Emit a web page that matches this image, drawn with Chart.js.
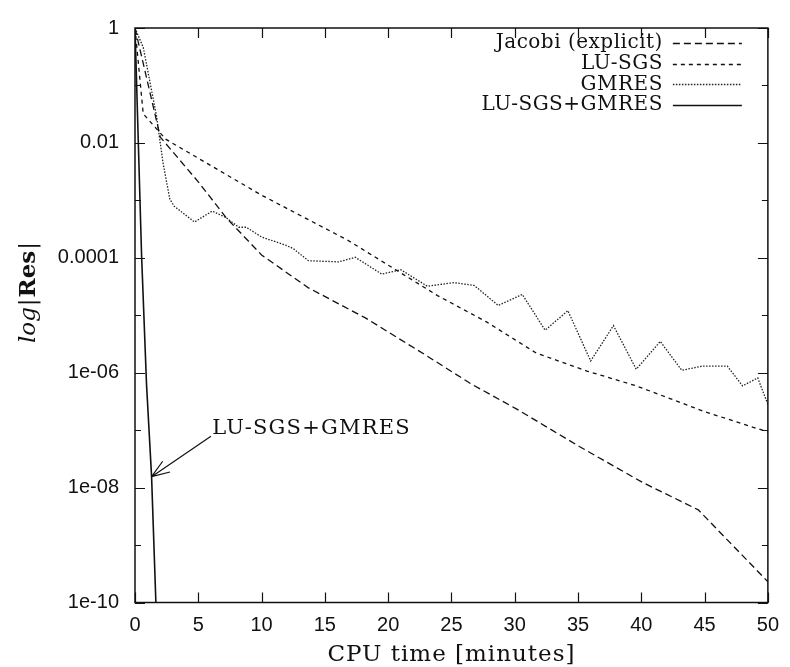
<!DOCTYPE html>
<html>
<head>
<meta charset="utf-8">
<script src="https://cdn.jsdelivr.net/npm/chart.js@4"></script>
<style>
  html, body { margin: 0; padding: 0; background: #fff; }
  canvas { display: block; }
</style>
</head>
<body>
<canvas id="resChart" width="790" height="667"></canvas>
<script>
// tick values and labels
const xTicks = [0, 5, 10, 15, 20, 25, 30, 35, 40, 45, 50];
const yTicks = [1e-10, 1e-9, 1e-8, 1e-7, 1e-6, 1e-5, 1e-4, 1e-3, 1e-2, 1e-1, 1];
const yTickLabels = ['1e-10', '', '1e-08', '', '1e-06', '', '0.0001', '', '0.01', '', '1'];

// series (CPU time in minutes, residual)
const jacobiX = [0, 2, 5, 7.2, 10, 13.7, 18.2, 23, 26.6, 30.2, 35.1, 40.1, 44.5, 50];
const jacobiY = [1, 1.26e-2, 2.1e-3, 5.0e-4, 1.12e-4, 3.0e-5, 9.0e-6, 2.0e-6, 6.3e-7, 2.3e-7, 5.2e-8, 1.23e-8, 4.1e-9, 2.3e-10];

const lusgsX = [0, 0.65, 2.45, 10, 16.85, 23.9, 27.8, 31.7, 35.7, 39.6, 45, 50];
const lusgsY = [1, 3.2e-2, 1.15e-2, 1.23e-3, 2.0e-4, 2.2e-5, 7.6e-6, 2.2e-6, 1.07e-6, 5.9e-7, 2.1e-7, 9.3e-8];

const gmresX = [0, 0.65, 1.7, 2.2, 2.75, 3.1, 4.7, 6.1, 7.2, 8.2, 8.8, 10, 11.9, 12.5, 13.7, 16.1, 17.4, 19.5, 21,
  23.1, 25.2, 26.8, 28.7, 30.6, 32.4, 34.2, 36, 37.8, 39.6, 41.5, 43.2, 44.8, 46.8, 48, 49.2, 50];
const gmresY = [1, 0.46, 2.95e-2, 4.7e-3, 1.05e-3, 7.9e-4, 4.2e-4, 6.5e-4, 5.0e-4, 3.4e-4, 3.4e-4, 2.3e-4, 1.66e-4, 1.45e-4, 8.9e-5, 8.5e-5, 1.02e-4, 5.2e-5, 6.2e-5,
  3.2e-5, 3.7e-5, 3.3e-5, 1.48e-5, 2.3e-5, 5.5e-6, 1.2e-5, 1.6e-6, 6.6e-6, 1.15e-6, 3.5e-6, 1.1e-6, 1.3e-6, 1.3e-6, 5.9e-7, 8.1e-7, 2.8e-7];

const comboX = [0, 0.52, 0.91, 1.31, 1.65];
const comboY = [1, 1.1e-4, 6.3e-7, 1.55e-8, 1e-10];

// annotation: arrow from label to the LU-SGS+GMRES curve
const arrowTip = [1.31, 1.55e-8];
const arrowTail = [6.0, 7.8e-8];
const noteAt = [6.1, 1.07e-7];
const noteText = 'LU-SGS+GMRES';

const serif = '"DejaVu Serif", "Liberation Serif", serif';
const sans = '"Liberation Sans", Arial, sans-serif';

function pts(xs, ys) {
    return xs.map((x, i) => ({ x: x, y: ys[i] }));
}

const series = [
    { label: 'Jacobi (explicit)', data: pts(jacobiX, jacobiY), dash: [7, 4], color: '#111', width: 1.3 },
    { label: 'LU-SGS', data: pts(lusgsX, lusgsY), dash: [4, 4], color: '#111', width: 1.3 },
    { label: 'GMRES', data: pts(gmresX, gmresY), dash: [1.5, 1.5], color: '#222', width: 1.3 },
    { label: 'LU-SGS+GMRES', data: pts(comboX, comboY), dash: [], color: '#111', width: 1.6 }
];

// frame, inward ticks, legend, annotation, axis titles
const decorations = {
    id: 'decorations',
    afterDraw(chart) {
        const ctx = chart.ctx;
        const a = chart.chartArea;
        const xs = chart.scales.x, ys = chart.scales.y;
        ctx.save();
        ctx.strokeStyle = '#111';
        ctx.lineWidth = 1.5;
        ctx.strokeRect(a.left, a.top, a.right - a.left, a.bottom - a.top);

        ctx.lineWidth = 1.2;
        ctx.beginPath();
        xTicks.forEach(v => {
            const px = Math.round(xs.getPixelForValue(v)) + 0.5;
            ctx.moveTo(px, a.bottom); ctx.lineTo(px, a.bottom - 10);
            ctx.moveTo(px, a.top); ctx.lineTo(px, a.top + 10);
        });
        yTicks.forEach((v, i) => {
            const py = Math.round(ys.getPixelForValue(v)) + 0.5;
            const len = yTickLabels[i] ? 10 : 6;
            ctx.moveTo(a.left, py); ctx.lineTo(a.left + len, py);
            ctx.moveTo(a.right, py); ctx.lineTo(a.right - len, py);
        });
        ctx.stroke();

        // legend (text right, line sample on the right)
        ctx.fillStyle = '#111';
        ctx.font = '20px ' + serif;
        ctx.textAlign = 'right';
        ctx.textBaseline = 'middle';
        ctx.letterSpacing = '0.5px';
        series.forEach((s, i) => {
            const y = a.top + 15 + i * 20.7;
            ctx.fillText(s.label, a.right - 105, y);
            ctx.beginPath();
            ctx.setLineDash(s.dash);
            ctx.strokeStyle = s.color;
            ctx.lineWidth = 1.3;
            ctx.moveTo(a.right - 95, Math.round(y) + 0.5);
            ctx.lineTo(a.right - 26, Math.round(y) + 0.5);
            ctx.stroke();
        });
        ctx.setLineDash([]);

        // annotation
        const tipX = xs.getPixelForValue(arrowTip[0]), tipY = ys.getPixelForValue(arrowTip[1]);
        const tailX = xs.getPixelForValue(arrowTail[0]), tailY = ys.getPixelForValue(arrowTail[1]);
        ctx.strokeStyle = '#111';
        ctx.lineWidth = 1.2;
        ctx.beginPath();
        ctx.moveTo(tailX, tailY);
        ctx.lineTo(tipX, tipY);
        const ang = Math.atan2(tailY - tipY, tailX - tipX);
        [-0.35, 0.35].forEach(d => {
            ctx.moveTo(tipX, tipY);
            ctx.lineTo(tipX + 19 * Math.cos(ang + d), tipY + 19 * Math.sin(ang + d));
        });
        ctx.stroke();
        ctx.font = '21px ' + serif;
        ctx.letterSpacing = '1.2px';
        ctx.textAlign = 'left';
        ctx.textBaseline = 'middle';
        ctx.fillText(noteText, xs.getPixelForValue(noteAt[0]), ys.getPixelForValue(noteAt[1]));

        // x title
        ctx.font = '23px ' + serif;
        ctx.letterSpacing = '1px';
        ctx.textAlign = 'center';
        ctx.textBaseline = 'alphabetic';
        ctx.fillText('CPU time [minutes]', (a.left + a.right) / 2, 661);

        // y title, mixed styles: log (italic) |Res| (bold)
        ctx.letterSpacing = '0px';
        ctx.translate(35, 292);
        ctx.rotate(-Math.PI / 2);
        const parts = [
            ['italic 23px ' + serif, 'log'],
            ['23px ' + serif, '|'],
            ['bold 23px ' + serif, 'Res'],
            ['23px ' + serif, '|']
        ];
        let total = 0;
        parts.forEach(p => { ctx.font = p[0]; total += ctx.measureText(p[1]).width + 1; });
        let cx = -total / 2;
        ctx.textAlign = 'left';
        parts.forEach(p => {
            ctx.font = p[0];
            ctx.fillText(p[1], cx, 0);
            cx += ctx.measureText(p[1]).width + 1;
        });
        ctx.restore();
    }
};

const resCtx = document.getElementById('resChart').getContext('2d');
const resChart = new Chart(resCtx, {
    type: 'line',
    data: {
        datasets: series.map(s => ({
            label: s.label,
            data: s.data,
            borderColor: s.color,
            borderDash: s.dash,
            borderWidth: s.width,
            pointRadius: 0,
            tension: 0,
            fill: false
        }))
    },
    options: {
        responsive: false,
        animation: false,
        devicePixelRatio: 1,
        layout: { padding: { top: 17, right: 17, left: 0, bottom: 0 } },
        plugins: {
            legend: { display: false },
            tooltip: { enabled: false }
        },
        scales: {
            x: {
                type: 'linear',
                min: 0,
                max: 50,
                afterBuildTicks: s => { s.ticks = xTicks.map(v => ({ value: v })); },
                afterFit: s => { s.height = 64.5; },
                grid: { display: false, drawTicks: false },
                border: { display: false },
                ticks: { font: { family: sans, size: 20 }, color: '#111', padding: 11, maxRotation: 0 }
            },
            y: {
                type: 'logarithmic',
                min: 1e-10,
                max: 1,
                afterBuildTicks: s => { s.ticks = yTicks.map(v => ({ value: v })); },
                afterFit: s => { s.width = 135; },
                grid: { display: false, drawTicks: false },
                border: { display: false },
                ticks: {
                    font: { family: sans, size: 20 },
                    color: '#111',
                    padding: 16,
                    autoSkip: false,
                    callback: (v, i) => yTickLabels[i]
                }
            }
        }
    },
    plugins: [decorations]
});
</script>
</body>
</html>
